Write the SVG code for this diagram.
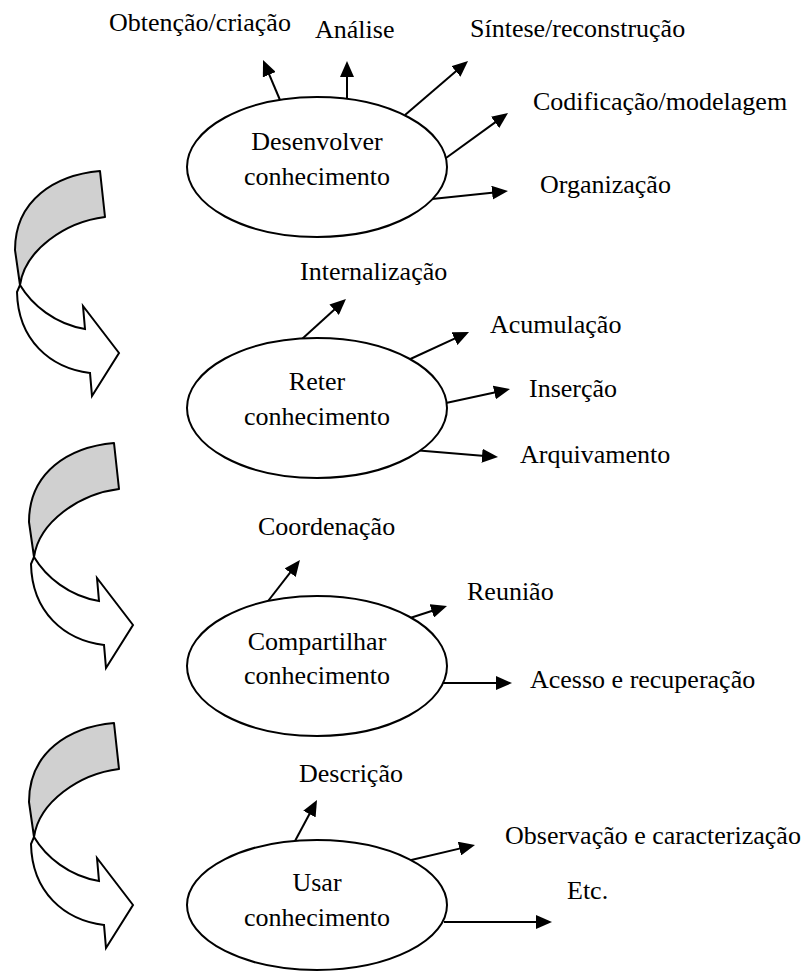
<svg xmlns="http://www.w3.org/2000/svg" xmlns:xlink="http://www.w3.org/1999/xlink" width="809" height="971" viewBox="0 0 809 971">
<style>
  text { font-family: "Liberation Serif", "Times New Roman", serif; font-size: 26px; fill: #000; }
  .mid { text-anchor: middle; }
  .node ellipse { fill: #fff; stroke: #000; stroke-width: 2; }
  .conn line { stroke: #000; stroke-width: 2; marker-end: url(#ah); }
  .back { fill: #d0d0d0; stroke: #000; stroke-width: 2; stroke-linejoin: round; }
  .front { fill: #fff; stroke: #000; stroke-width: 2; stroke-linejoin: miter; }
</style>
<defs>
  <marker id="ah" markerUnits="strokeWidth" markerWidth="8" markerHeight="7" refX="6" refY="3.5" orient="auto">
    <path d="M0,0 L8,3.5 L0,7 Z" fill="#000"/>
  </marker>
  <g id="curve">
    <path class="back" d="M 100 171 C 55 175 15 200 15 250 L 20 285 C 25 250 65 222 105 217 Z"/>
    <path class="front" d="M 20 285 C 32 305 55 324 85 329 L 83 306 L 119 353 L 92 396 L 90 373 C 50 368 18 340 17 292 Z"/>
  </g>
</defs>
<rect width="809" height="971" fill="#fff"/>

<g id="flow-arrows">
  <use xlink:href="#curve"/>
  <use xlink:href="#curve" transform="translate(14,272)"/>
  <use xlink:href="#curve" transform="translate(14,552)"/>
</g>

<g id="connectors" class="conn">
  <line x1="280" y1="100" x2="264.6" y2="63.7"/>
  <line x1="347" y1="98" x2="347" y2="65"/>
  <line x1="405" y1="115" x2="465" y2="63.6"/>
  <line x1="446" y1="158" x2="504.8" y2="115.4"/>
  <line x1="432" y1="199" x2="504" y2="191.4"/>
  <line x1="302" y1="339" x2="343" y2="301.7"/>
  <line x1="406" y1="361" x2="465.4" y2="333.7"/>
  <line x1="446" y1="403" x2="506.1" y2="389.9"/>
  <line x1="413" y1="450" x2="494" y2="456.7"/>
  <line x1="265" y1="605" x2="297.5" y2="563.2"/>
  <line x1="407" y1="619" x2="443.2" y2="607.2"/>
  <line x1="443" y1="683" x2="508" y2="683"/>
  <line x1="295" y1="841" x2="315.1" y2="803.5"/>
  <line x1="407" y1="861" x2="471.1" y2="845.9"/>
  <line x1="444" y1="922" x2="548" y2="922"/>
</g>

<g id="desenvolver" class="node">
  <ellipse cx="317" cy="167" rx="130" ry="70"/>
  <text class="mid" x="317" y="150">Desenvolver</text>
  <text class="mid" x="317" y="185">conhecimento</text>
</g>
<g id="reter" class="node">
  <ellipse cx="317" cy="408" rx="130" ry="70"/>
  <text class="mid" x="317" y="390">Reter</text>
  <text class="mid" x="317" y="425">conhecimento</text>
</g>
<g id="compartilhar" class="node">
  <ellipse cx="317" cy="666" rx="130" ry="70"/>
  <text class="mid" x="317" y="650">Compartilhar</text>
  <text class="mid" x="317" y="684">conhecimento</text>
</g>
<g id="usar" class="node">
  <ellipse cx="317" cy="905" rx="130" ry="65"/>
  <text class="mid" x="317" y="891">Usar</text>
  <text class="mid" x="317" y="926">conhecimento</text>
</g>

<g id="labels">
  <text x="109" y="31">Obtenção/criação</text>
  <text x="315" y="38">Análise</text>
  <text x="470" y="37">Síntese/reconstrução</text>
  <text x="533" y="110">Codificação/modelagem</text>
  <text x="540" y="193">Organização</text>
  <text x="300" y="280">Internalização</text>
  <text x="490" y="333">Acumulação</text>
  <text x="529" y="397">Inserção</text>
  <text x="520" y="463">Arquivamento</text>
  <text x="258" y="535">Coordenação</text>
  <text x="467" y="600">Reunião</text>
  <text x="530" y="688">Acesso e recuperação</text>
  <text x="299" y="782">Descrição</text>
  <text x="505" y="844">Observação e caracterização</text>
  <text x="567" y="899">Etc.</text>
</g>
</svg>
